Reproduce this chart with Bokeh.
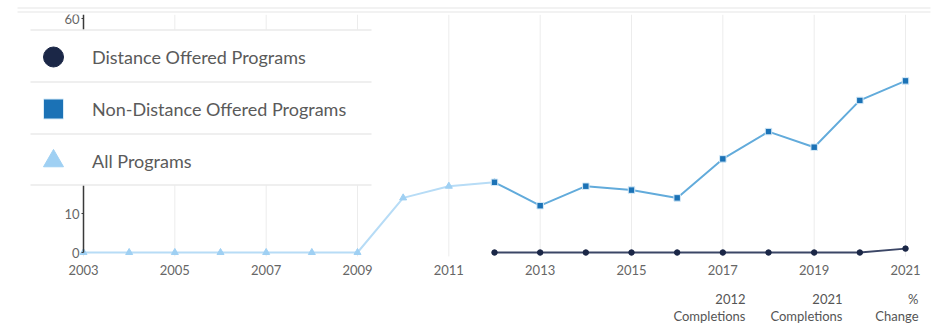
from bokeh.plotting import figure
from bokeh.models import (Range1d, FixedTicker, Legend, LegendItem, BoxAnnotation, Label)
from bokeh.embed import file_html
from bokeh.resources import INLINE

# ---- data ----
all_years = [2003, 2004, 2005, 2006, 2007, 2008, 2009, 2010, 2011, 2012]
all_values = [0, 0, 0, 0, 0, 0, 0, 14, 17, 18]

nondist_years = [2012, 2013, 2014, 2015, 2016, 2017, 2018, 2019, 2020, 2021]
nondist_values = [18, 12, 17, 16, 14, 24, 31, 27, 39, 44]

dist_years = [2012, 2013, 2014, 2015, 2016, 2017, 2018, 2019, 2020, 2021]
dist_values = [0, 0, 0, 0, 0, 0, 0, 0, 0, 1]

x_tick_years = [2003, 2005, 2007, 2009, 2011, 2013, 2015, 2017, 2019, 2021]
y_tick_values = [0, 10, 20, 30, 40, 50, 60]

legend_labels = ["Distance Offered Programs", "Non-Distance Offered Programs", "All Programs"]
table_header_top = ["2012", "2021", "%"]
table_header_bottom = ["Completions", "Completions", "Change"]

FONT = "Lato"
W, H = 933, 325

# pixel anchors of the axes (layout only)
X0_PX, X1_PX = 83.0, 905.0      # 2003 and 2021
Y0_PX, PX_PER_UNIT = 252.0, 3.9  # value 0, and pixels per unit
px_per_year = (X1_PX - X0_PX) / (x_tick_years[-1] - x_tick_years[0])
x_start = x_tick_years[0] - X0_PX / px_per_year
x_end = x_tick_years[0] + (W - X0_PX) / px_per_year
y_top = Y0_PX / PX_PER_UNIT
y_bottom = -(H - Y0_PX) / PX_PER_UNIT
y_axis_floor = -1.0
y_axis_ceiling = 61.0

p = figure(width=W, height=H, output_backend="svg", toolbar_location=None,
           x_range=Range1d(x_start, x_end), y_range=Range1d(y_bottom, y_top),
           min_border_left=0, min_border_right=0, min_border_top=0, min_border_bottom=0)
p.outline_line_color = None
p.background_fill_color = "white"
p.grid.visible = False

# axes drawn inside the frame
p.xaxis.fixed_location = y_axis_floor
p.yaxis.fixed_location = x_tick_years[0]
p.xaxis.ticker = FixedTicker(ticks=x_tick_years)
p.yaxis.ticker = FixedTicker(ticks=y_tick_values)
p.yaxis.bounds = (0, y_axis_ceiling)
p.xaxis.axis_line_color = None
p.xaxis.major_tick_line_color = None
p.xaxis.minor_tick_line_color = None
p.xaxis.major_label_standoff = 3
p.yaxis.axis_line_color = "#3a3a3a"
p.yaxis.axis_line_width = 1.5
p.yaxis.major_tick_out = 2
p.yaxis.major_tick_in = 0
p.yaxis.major_tick_line_color = "#3a3a3a"
p.yaxis.minor_tick_line_color = None
p.yaxis.major_label_standoff = 2
for ax in (p.xaxis, p.yaxis):
    ax.major_label_text_font = FONT
    ax.major_label_text_font_size = "13px"
    ax.major_label_text_color = "#666666"

# vertical grid lines at the tick years, limited to the plotting band
p.segment(x0=x_tick_years, y0=[y_axis_floor] * len(x_tick_years),
          x1=x_tick_years, y1=[y_axis_ceiling] * len(x_tick_years),
          line_color="#ececec", line_width=1)

# series
r_all_line = p.line(all_years, all_values, line_color="#b7dcf6", line_width=2)
r_all_pts = p.scatter(all_years, all_values, marker="triangle", size=7,
                      fill_color="#9fd0f3", line_color="#9fd0f3")
r_d_line = p.line(dist_years, dist_values, line_color="#3b4666", line_width=1.8)
r_d_pts = p.scatter(dist_years, dist_values, marker="circle", size=5.5,
                    fill_color="#1b2747", line_color="#1b2747")
r_nd_line = p.line(nondist_years, nondist_values, line_color="#62abdb", line_width=2)
r_nd_pts = p.scatter(nondist_years, nondist_values, marker="square", size=6.5,
                     fill_color="#1b72b6", line_color="#d7ebf8", line_width=1)

def hbar(top, bottom, left, right, color):
    p.add_layout(BoxAnnotation(left=left, right=right, top=top, bottom=bottom,
                               left_units="canvas", right_units="canvas",
                               top_units="canvas", bottom_units="canvas",
                               fill_color=color, fill_alpha=1, line_color=None,
                               level="overlay"))

# legend panel: white background and separators
hbar(29, 185, 30, 371, "white")
for yy in [29, 81, 133, 184]:
    hbar(yy, yy + 1, 30, 371, "#e0e0e0")

legend = Legend(items=[LegendItem(label=legend_labels[0], renderers=[r_d_pts]),
                       LegendItem(label=legend_labels[1], renderers=[r_nd_pts]),
                       LegendItem(label=legend_labels[2], renderers=[r_all_pts])],
                location=(28, H - 186), orientation="vertical",
                padding=0, margin=0, spacing=1,
                glyph_width=50, glyph_height=51, label_standoff=14, label_width=270,
                label_text_font=FONT, label_text_font_size="18px", label_text_color="#5a5a5a",
                background_fill_alpha=0.0, border_line_color=None)
p.add_layout(legend)

# white strip + faint double border at the top
hbar(0, 14, 0, W, "white")
for yy in [7, 11]:
    hbar(yy, yy + 1, 17, 930, "#e6e6e6")

# table column headers under the chart
header_right_edges = [745, 842, 918]
for i in range(3):
    for txt, yy in ((table_header_top[i], 298), (table_header_bottom[i], 315)):
        p.add_layout(Label(x=header_right_edges[i], y=H - yy, x_units="screen", y_units="screen",
                           text=txt, text_align="right", text_baseline="middle",
                           text_font=FONT, text_font_size="13px", text_color="#555555"))

open("out.html", "w").write(file_html(p, INLINE))
